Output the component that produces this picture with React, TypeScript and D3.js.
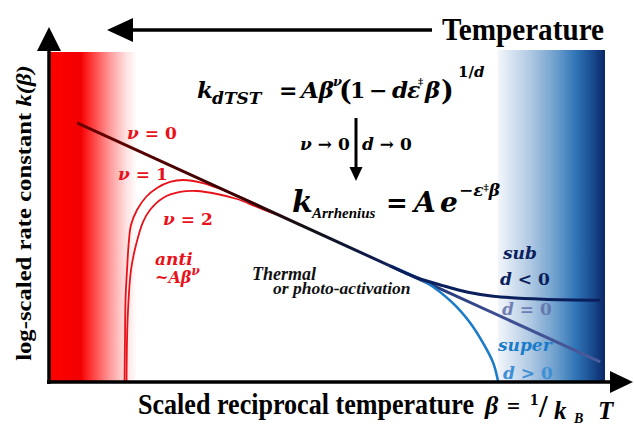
import React from 'react';
import * as d3 from 'd3';

// ---- data (β in arbitrary scaled units, log k in arbitrary units) ----
const arrBeta = [0.52, 9.86];
const arrLogK = [7.85, 0.61];

const nu1Beta = [1.366, 1.375, 1.384, 1.411, 1.446, 1.482, 1.589, 1.75, 1.946, 2.179, 2.411, 2.768, 3.125, 3.482, 3.821];
const nu1LogK = [0, 1.273, 2.485, 3.394, 4.303, 4.758, 5.212, 5.606, 5.879, 6.061, 6.121, 6.03, 5.818, 5.576, 5.303];

const nu2Beta = [1.402, 1.411, 1.429, 1.482, 1.571, 1.696, 1.821, 2.054, 2.357, 2.661, 3.018, 3.375, 3.732, 4.054];
const nu2LogK = [0, 1.273, 2.182, 3.394, 4.152, 4.848, 5.212, 5.576, 5.758, 5.788, 5.697, 5.545, 5.303, 5.091];

const subBeta = [6.11, 6.59, 7.05, 7.5, 7.95, 8.84, 9.86];
const subLogK = [3.52, 3.16, 2.92, 2.72, 2.6, 2.51, 2.48];

const superBeta = [6.11, 6.77, 7.23, 7.54, 7.77, 7.95, 8.04];
const superLogK = [3.52, 3.0, 2.39, 1.79, 1.18, 0.58, 0];

const zip = (a: number[], b: number[]) => a.map((v, i) => [v, b[i]] as [number, number]);

const MATH = { fontFamily: "'DejaVu Serif', serif" };
const TIMES = { fontFamily: "'Liberation Serif', 'Times New Roman', serif" };

export default function App() {
  const x = d3.scaleLinear().domain([0, 10]).range([48, 608]);
  const y = d3.scaleLinear().domain([0, 10]).range([382, 52]);
  const curve = d3
    .line<[number, number]>()
    .x((d) => x(d[0]))
    .y((d) => y(d[1]))
    .curve(d3.curveCatmullRom.alpha(0.5));
  const straight = d3
    .line<[number, number]>()
    .x((d) => x(d[0]))
    .y((d) => y(d[1]));

  const red = '#e8121a';
  return (
    <svg width={634} height={425} style={{ position: 'absolute', left: 0, top: 0, background: '#fff' }}>
      <defs>
        <linearGradient id="redG" x1="0" x2="1" y1="0" y2="0">
          <stop offset="0" stopColor="#ff0000" />
          <stop offset="0.36" stopColor="#f20000" />
          <stop offset="0.45" stopColor="#ff2a2a" />
          <stop offset="0.7" stopColor="#ff9d9d" />
          <stop offset="0.88" stopColor="#ffe2e2" />
          <stop offset="1" stopColor="#ffffff" />
        </linearGradient>
        <linearGradient id="blueG" x1="0" x2="1" y1="0" y2="0">
          <stop offset="0" stopColor="#f2f6fb" />
          <stop offset="0.3" stopColor="#b0c9e3" />
          <stop offset="0.55" stopColor="#6a9dcc" />
          <stop offset="0.73" stopColor="#2f74b5" />
          <stop offset="0.86" stopColor="#1c5295" />
          <stop offset="1" stopColor="#0a2766" />
        </linearGradient>
        <linearGradient id="lineG" gradientUnits="userSpaceOnUse" x1={x(arrBeta[0])} x2={x(arrBeta[1])} y1="0" y2="0">
          <stop offset="0" stopColor="#6b0000" />
          <stop offset="0.3" stopColor="#3a0000" />
          <stop offset="0.45" stopColor="#111118" />
          <stop offset="0.56" stopColor="#0d1a4a" />
          <stop offset="0.66" stopColor="#1f3373" />
          <stop offset="0.8" stopColor="#3d4f92" />
          <stop offset="1" stopColor="#4a5a9a" />
        </linearGradient>
      </defs>

      {/* background bands */}
      <rect x={49} y={52} width={88} height={330} fill="url(#redG)" />
      <rect x={498} y={50} width={107} height={332} fill="url(#blueG)" />

      {/* Temperature arrow */}
      <line x1={128} x2={432} y1={30} y2={30} stroke="#000" strokeWidth={3.5} />
      <polygon points="107,30 133,18 133,42" fill="#000" />
      <text x={442} y={40} style={TIMES} fontWeight="bold" fontSize={32} textLength={162} lengthAdjust="spacingAndGlyphs">Temperature</text>

      {/* curves */}
      <path d={curve(zip(nu1Beta, nu1LogK)) || ''} fill="none" stroke={red} strokeWidth={1.8} />
      <path d={curve(zip(nu2Beta, nu2LogK)) || ''} fill="none" stroke={red} strokeWidth={1.8} />
      <path d={straight(zip(arrBeta, arrLogK)) || ''} fill="none" stroke="url(#lineG)" strokeWidth={3} />
      <path d={curve(zip(superBeta, superLogK)) || ''} fill="none" stroke="#1a7bc9" strokeWidth={2.6} />
      <path d={curve(zip(subBeta, subLogK)) || ''} fill="none" stroke="#0b1f5c" strokeWidth={3} />

      {/* axes */}
      <line x1={49} x2={49} y1={48} y2={384} stroke="#000" strokeWidth={3.5} />
      <polygon points="37,51 61,51 49,27" fill="#000" />
      <line x1={47} x2={612} y1={382} y2={382} stroke="#000" strokeWidth={3.5} />
      <polygon points="610,371 610,393 633,382" fill="#000" />

      {/* axis titles */}
      <text transform="translate(31,213) scale(0.86,1) rotate(-90)" textAnchor="middle" style={TIMES} fontWeight="bold" fontSize={24.7}>
        log-scaled rate constant <tspan fontStyle="italic">k(β)</tspan>
      </text>
      <text x={138} y={414} style={TIMES} fontWeight="bold" fontSize={30} textLength={336} lengthAdjust="spacingAndGlyphs">Scaled reciprocal temperature</text>
      <g style={TIMES} fontWeight="bold" fill="#000">
        <text x={485} y={414} fontSize={26} fontStyle="italic">β</text>
        <text x={507} y={414} fontSize={23}>=</text>
        <text x={530} y={405} fontSize={17}>1</text>
        <text x={539} y={417} fontSize={31}>/</text>
        <text x={554} y={419} fontSize={25} fontStyle="italic">k</text>
        <text x={574} y={423} fontSize={14} fontStyle="italic">B</text>
        <text x={598} y={419} fontSize={25} fontStyle="italic">T</text>
      </g>

      {/* formula 1 */}
      <g style={MATH} fontWeight="bold" fill="#000">
        <text x={197} y={98} fontSize={23} fontStyle="italic">k</text>
        <text x={212} y={104} fontSize={17} fontStyle="italic">dTST</text>
        <text x={279} y={98} fontSize={22}>=</text>
        <text x={301} y={98} fontSize={23} fontStyle="italic">Aβ</text>
        <text x={333} y={86} fontSize={13} fontStyle="italic">ν</text>
        <text x={339} y={100} fontSize={27}>(</text>
        <text x={350} y={98} fontSize={22}>1</text>
        <text x={369} y={98} fontSize={22}>−</text>
        <text x={392} y={98} fontSize={23} fontStyle="italic">d</text>
        <text x={407} y={98} fontSize={22} fontStyle="italic">ε</text>
        <text x={418} y={85} fontSize={10}>‡</text>
        <text x={425} y={98} fontSize={23} fontStyle="italic">β</text>
        <text x={441} y={100} fontSize={27}>)</text>
        <text x={458} y={77} fontSize={15}>1/<tspan fontStyle="italic">d</tspan></text>
      </g>

      {/* limits with arrow */}
      <g style={MATH} fontWeight="bold" fill="#000" fontSize={17}>
        <text x={300} y={150}><tspan fontStyle="italic">ν</tspan> → 0</text>
        <text x={362} y={150}><tspan fontStyle="italic">d</tspan> → 0</text>
      </g>
      <line x1={356} x2={356} y1={118} y2={169} stroke="#000" strokeWidth={3} />
      <polygon points="349.5,167 362.5,167 356,181" fill="#000" />

      {/* formula 2 */}
      <g style={MATH} fontWeight="bold" fill="#000">
        <text x={292} y={212} fontSize={30} fontStyle="italic">k</text>
        <text x={312} y={218} fontSize={15} fontStyle="italic" style={TIMES}>Arrhenius</text>
        <text x={386} y={212} fontSize={26}>=</text>
        <text x={414} y={212} fontSize={28} fontStyle="italic">A</text>
        <text x={440} y={212} fontSize={28} fontStyle="italic">e</text>
        <text x={459} y={196} fontSize={17} fontStyle="italic">−ε<tspan fontSize={10} dy={-5} fontStyle="normal">‡</tspan><tspan dy={5}>β</tspan></text>
      </g>

      {/* red labels */}
      <g style={MATH} fontWeight="bold" fill={red} fontSize={17}>
        <text x={127} y={139}><tspan fontStyle="italic">ν</tspan> = 0</text>
        <text x={118} y={180}><tspan fontStyle="italic">ν</tspan> = 1</text>
        <text x={163} y={225}><tspan fontStyle="italic">ν</tspan> = 2</text>
        <text x={155} y={265} fontStyle="italic">anti</text>
        <text x={155} y={283} fontStyle="italic" fontSize={16}>~Aβ<tspan fontSize={12} dy={-8}>ν</tspan></text>
      </g>

      {/* thermal label */}
      <g style={TIMES} fontWeight="bold" fontStyle="italic" fill="#111" fontSize={18}>
        <text x={252} y={280}>Thermal</text>
        <text x={273} y={294} fontSize={17.5}>or photo-activation</text>
      </g>

      {/* blue labels */}
      <g style={MATH} fontWeight="bold" fontSize={17}>
        <text x={503} y={259} fill="#0b1f5c" fontStyle="italic">sub</text>
        <text x={500} y={285} fill="#0b1f5c"><tspan fontStyle="italic">d</tspan> &lt; 0</text>
        <text x={502} y={315} fill="#5f70aa" opacity={0.85}><tspan fontStyle="italic">d</tspan> = 0</text>
        <text x={498} y={351} fill="#1a7bc9" fontStyle="italic">super</text>
        <text x={503} y={379} fill="#3f8fd6"><tspan fontStyle="italic">d</tspan> &gt; 0</text>
      </g>
    </svg>
  );
}
